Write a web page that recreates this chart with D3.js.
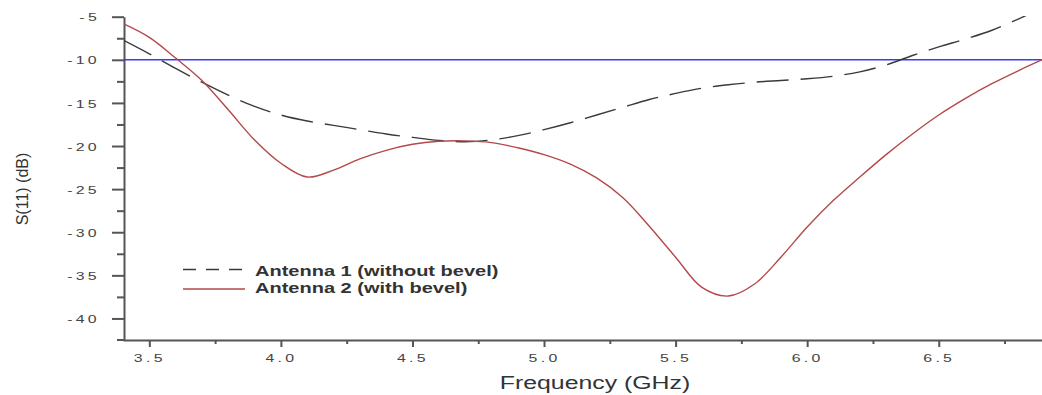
<!DOCTYPE html>
<html>
<head>
<meta charset="utf-8">
<script src="https://cdn.jsdelivr.net/npm/d3@7"></script>
<style>
  body { margin: 0; background: #fff; }
  svg { display: block; font-family: "Liberation Sans", Arial, sans-serif; }
</style>
</head>
<body>
<script>
// frequency points (GHz)
var freq = [3.4, 3.5, 3.6, 3.7, 3.8, 3.9, 4.0, 4.1, 4.2, 4.3, 4.4, 4.5, 4.6, 4.7, 4.8, 4.9,
            5.0, 5.1, 5.2, 5.3, 5.4, 5.5, 5.6, 5.7, 5.8, 5.9, 6.0, 6.1, 6.2, 6.3, 6.4, 6.5,
            6.6, 6.7, 6.8, 6.9];

// Antenna 1 (without bevel), dB
var ant1 = [-7.7, -9.3, -11.0, -12.6, -14.1, -15.4, -16.4, -17.1, -17.6, -18.1, -18.6, -19.0,
            -19.35, -19.5, -19.3, -18.8, -18.1, -17.3, -16.4, -15.5, -14.6, -13.9, -13.3, -12.9,
            -12.6, -12.4, -12.2, -11.9, -11.4, -10.6, -9.5, -8.5, -7.6, -6.6, -5.3, -3.9];

// Antenna 2 (with bevel), dB
var ant2 = [-5.8, -7.4, -9.8, -12.4, -15.8, -19.3, -22.0, -23.6, -22.8, -21.5, -20.5, -19.8,
            -19.45, -19.4, -19.6, -20.2, -21.0, -22.1, -23.7, -26.0, -29.3, -32.9, -36.4, -37.4,
            -36.0, -32.9, -29.4, -26.3, -23.6, -21.0, -18.6, -16.4, -14.5, -12.8, -11.3, -9.9];

var seriesNames = ["Antenna 1 (without bevel)", "Antenna 2 (with bevel)"];

var xTicks = [3.5, 4.0, 4.5, 5.0, 5.5, 6.0, 6.5];
var xMinor = [3.75, 4.25, 4.75, 5.25, 5.75, 6.25, 6.75];
var yTicks = [-5, -10, -15, -20, -25, -30, -35, -40];
var yMinor = [-7.5, -12.5, -17.5, -22.5, -27.5, -32.5, -37.5];
var refLevel = -10;

var width = 1042, height = 395,
    stretch = 1.38;   // the original text is drawn wide

var x = d3.scaleLinear().domain([3.4, 6.9]).range([123, 1044]);
var y = d3.scaleLinear().domain([-42.5, -5]).range([340, 16.7]);

var svg = d3.select("body").append("svg")
    .attr("width", width)
    .attr("height", height);

svg.append("clipPath").attr("id", "plotclip")
  .append("rect")
    .attr("x", 124).attr("y", 16)
    .attr("width", width - 124).attr("height", 340 - 16);

//------------- axes
var yAxis = svg.append("g")
    .attr("class", "axis")
    .attr("transform", "translate(124,0)")
    .call(d3.axisLeft(y).tickValues(yTicks).tickSize(12).tickSizeOuter(0)
        .tickFormat(function (d) { return "-" + Math.abs(d); }));

svg.append("g")
    .attr("class", "axis")
    .attr("transform", "translate(124,0)")
    .call(d3.axisLeft(y).tickValues(yMinor).tickSize(7).tickFormat(""))
    .select(".domain").remove();

yAxis.selectAll(".tick text")
    .attr("x", -24 / stretch)
    .attr("dy", "0.36em")
    .attr("transform", "scale(" + stretch + ",1)");

var xAxis = svg.append("g")
    .attr("class", "axis")
    .attr("transform", "translate(0,340)")
    .call(d3.axisBottom(x).tickValues(xTicks).tickSize(7).tickSizeOuter(0)
        .tickFormat(d3.format(".1f")));

svg.append("g")
    .attr("class", "axis")
    .attr("transform", "translate(0,340)")
    .call(d3.axisBottom(x).tickValues(xMinor).tickSize(4).tickFormat(""))
    .select(".domain").remove();

xAxis.selectAll(".tick text")
    .attr("y", 22)
    .attr("dy", 0)
    .attr("transform", "scale(" + stretch + ",1)");

// x axis line runs a little past the y axis
svg.append("line")
    .attr("x1", 117).attr("x2", 124)
    .attr("y1", 340).attr("y2", 340)
    .attr("stroke", "#555").attr("stroke-width", 2);

svg.selectAll(".axis .domain").attr("stroke", "#555").attr("stroke-width", 2);
svg.selectAll(".axis line").attr("stroke", "#555").attr("stroke-width", 2);
svg.selectAll(".axis text")
    .attr("fill", "#444")
    .style("font-size", "11.5px")
    .style("letter-spacing", "2.4px");

//------------- reference line
svg.append("line")
    .attr("x1", 124).attr("x2", width)
    .attr("y1", y(refLevel)).attr("y2", y(refLevel))
    .attr("stroke", "#3a3aff")
    .attr("stroke-width", 1.5);

//------------- curves
var line = d3.line()
    .x(function (d, i) { return x(freq[i]); })
    .y(function (d) { return y(d); })
    .curve(d3.curveCatmullRom.alpha(0.5));

var plot = svg.append("g").attr("clip-path", "url(#plotclip)");

plot.append("path")
    .datum(ant1)
    .attr("d", line)
    .attr("fill", "none")
    .attr("stroke", "#3a3a3a")
    .attr("stroke-width", 1.4)
    .attr("stroke-dasharray", "32,12");

plot.append("path")
    .datum(ant2)
    .attr("d", line)
    .attr("fill", "none")
    .attr("stroke", "#b5484a")
    .attr("stroke-width", 1.4);

//------------- legend
var legend = svg.append("g");

legend.append("line")
    .attr("x1", 183).attr("x2", 245)
    .attr("y1", 269.5).attr("y2", 269.5)
    .attr("stroke", "#3a3a3a").attr("stroke-width", 1.4)
    .attr("stroke-dasharray", "13,10");

legend.append("line")
    .attr("x1", 183).attr("x2", 245)
    .attr("y1", 289).attr("y2", 289)
    .attr("stroke", "#b5484a").attr("stroke-width", 1.4);

legend.selectAll("text")
    .data(seriesNames)
    .enter().append("text")
    .attr("transform", function (d, i) { return "translate(255," + (276 + i * 17) + ") scale(" + stretch + ",1)"; })
    .attr("fill", "#333")
    .style("font-size", "14.5px")
    .style("font-weight", "bold")
    .text(function (d) { return d; });

//------------- axis titles
svg.append("text")
    .attr("transform", "translate(595,389) scale(" + stretch + ",1)")
    .attr("text-anchor", "middle")
    .attr("fill", "#333")
    .style("font-size", "18px")
    .text("Frequency (GHz)");

svg.append("text")
    .attr("transform", "translate(28,189) rotate(-90)")
    .attr("text-anchor", "middle")
    .attr("fill", "#333")
    .style("font-size", "16px")
    .text("S(11) (dB)");
</script>
</body>
</html>
